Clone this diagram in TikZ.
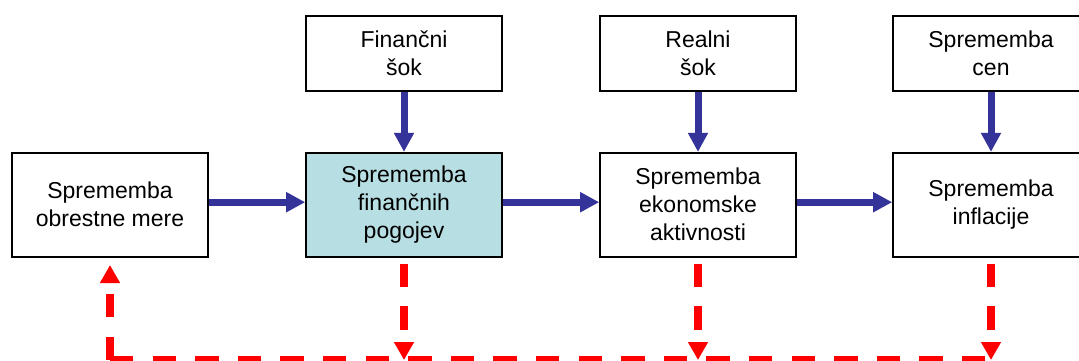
\documentclass[tikz,border=0pt]{standalone}
\usepackage{fontspec}
\setmainfont{Liberation Sans}
\usetikzlibrary{arrows.meta}
\definecolor{flowblue}{RGB}{51,51,153}
\definecolor{boxteal}{RGB}{183,222,227}
\definecolor{fbred}{RGB}{255,0,0}
\tikzset{
  mainbox/.style={draw=black, line width=1.6pt, fill=white, minimum width=196pt, minimum height=104pt, inner sep=0pt, align=center, font=\fontsize{23pt}{28pt}\selectfont},
  topbox/.style={mainbox, minimum height=75pt},
  tealbox/.style={mainbox, fill=boxteal},
  bluearrow/.style={draw=flowblue, line width=7pt, -{Triangle[length=19pt,width=19pt]}},
  redarrow/.style={draw=fbred, line width=8pt, dash pattern=on 23.5pt off 19.2pt, -{Triangle[length=18pt,width=19pt]}},
  redline/.style={draw=fbred, line width=8pt, dash pattern=on 23.3pt off 19.3pt}
}
\begin{document}
\begin{tikzpicture}[x=1pt, y=-1pt]
\useasboundingbox (0,0) rectangle (1079,361);
% main row
\node[mainbox] (a) at (110,204.7) {Sprememba\\obrestne mere};
\node[tealbox] (b) at (404,204.7) {Sprememba\\finančnih\\pogojev};
\node[mainbox] (c) at (698,204.7) {Sprememba\\ekonomske\\aktivnosti};
\node[mainbox] (d) at (991,204.7) {Sprememba\\inflacije};
% top row
\node[topbox] (fb) at (404,53.5) {Finančni\\šok};
\node[topbox] (fc) at (698,53.5) {Realni\\šok};
\node[topbox] (fd) at (991,53.5) {Sprememba\\cen};
% blue arrows
\draw[bluearrow] ([yshift=2.5pt]a.east) -- ([yshift=2.5pt]b.west);
\draw[bluearrow] ([yshift=2.5pt]b.east) -- ([yshift=2.5pt]c.west);
\draw[bluearrow] ([yshift=2.5pt]c.east) -- ([yshift=2.5pt]d.west);
\draw[bluearrow] (fb.south) -- (b.north);
\draw[bluearrow] (fc.south) -- (c.north);
\draw[bluearrow] (fd.south) -- (d.north);
% red feedback
\coordinate (corner) at (110,360);
\coordinate (hend) at (996,360);
\draw[redline] (corner) -- (hend);
\draw[redarrow] (corner) -- ([yshift=-7.5pt]a.south);
\draw[redarrow] ([yshift=-6pt]b.south) -- (b.south |- corner);
\draw[redarrow] ([yshift=-6pt]c.south) -- (c.south |- corner);
\draw[redarrow] ([yshift=-6pt]d.south) -- (d.south |- corner);
\end{tikzpicture}
\end{document}
